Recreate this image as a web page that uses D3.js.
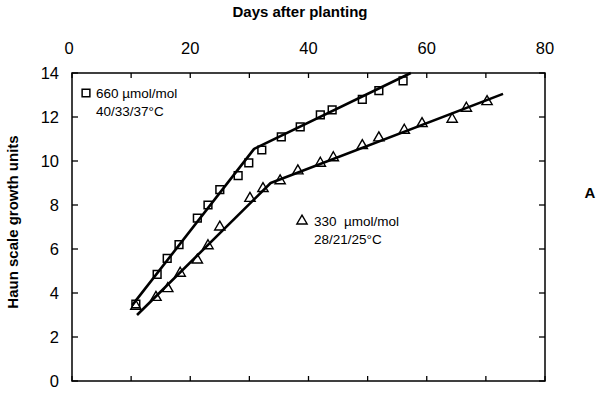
<!DOCTYPE html>
<html>
<head>
<meta charset="utf-8">
<script src="https://cdn.jsdelivr.net/npm/d3@7"></script>
<style>
  body { margin: 0; background: #fff; }
  svg { display: block; }
  .tick-label { font-family: 'Liberation Sans', Arial, sans-serif; font-size: 16.5px; fill: #000; }
  .title { font-family: 'Liberation Sans', Arial, sans-serif; font-size: 15px; font-weight: bold; fill: #000; }
  .legend { font-family: 'Liberation Sans', Arial, sans-serif; font-size: 13.5px; fill: #000; white-space: pre; }
</style>
</head>
<body>
<svg id="chart" width="599" height="393"></svg>
<script>
  'use strict'
  // 660 umol/mol, 40/33/37 C
  var highDays = [10.8, 14.4, 16.1, 18.1, 21.2, 23.0, 25.0, 28.1, 29.9, 32.1, 35.4, 38.6, 42.0, 44.0, 49.1, 51.9, 56.0]
  var highValues = [3.5, 4.85, 5.57, 6.2, 7.4, 8.0, 8.7, 9.33, 9.92, 10.5, 11.1, 11.55, 12.1, 12.32, 12.8, 13.2, 13.64]
  // 330 umol/mol, 28/21/25 C
  var lowDays = [10.8, 14.2, 16.2, 18.3, 21.2, 23.0, 25.0, 30.1, 32.3, 35.2, 38.2, 42.0, 44.2, 49.1, 51.9, 56.2, 59.2, 64.3, 66.7, 70.2]
  var lowValues = [3.4, 3.8, 4.2, 4.9, 5.5, 6.15, 7.0, 8.3, 8.75, 9.1, 9.55, 9.9, 10.15, 10.7, 11.05, 11.4, 11.7, 11.9, 12.4, 12.7]
  // fitted broken-line regressions
  var highFitDays = [10.2, 30.8, 57.3]
  var highFitValues = [3.45, 10.55, 14.0]
  var lowFitDays = [11.0, 33.6, 72.9]
  var lowFitValues = [3.0, 9.0, 13.05]
  var xTicks = [0, 20, 40, 60, 80]
  var yTicks = [0, 2, 4, 6, 8, 10, 12, 14]

  var svg = d3.select('#chart')
  var margin = { top: 73, right: 54, bottom: 12, left: 72 }
  var width = 599 - margin.left - margin.right
  var height = 393 - margin.top - margin.bottom
  var g = svg.append('g').attr('transform', 'translate(' + margin.left + ',' + margin.top + ')')

  var x = d3.scaleLinear().domain([0, 80]).range([0, width])
  var y = d3.scaleLinear().domain([0, 14]).range([height, 0])

  // frame
  g.append('rect')
    .attr('x', 0).attr('y', 0)
    .attr('width', width).attr('height', height)
    .attr('fill', 'none').attr('stroke', '#000').attr('stroke-width', 1.5)

  // inward ticks, every 10 days and every 2 units
  var xMinor = d3.range(0, 81, 10)
  var yMinor = d3.range(0, 15, 2)
  g.selectAll('.xt-top').data(xMinor).enter().append('line')
    .attr('x1', function (d) { return x(d) }).attr('x2', function (d) { return x(d) })
    .attr('y1', 0).attr('y2', 5).attr('stroke', '#000').attr('stroke-width', 1.3)
  g.selectAll('.xt-bot').data(xMinor).enter().append('line')
    .attr('x1', function (d) { return x(d) }).attr('x2', function (d) { return x(d) })
    .attr('y1', height - 5).attr('y2', height).attr('stroke', '#000').attr('stroke-width', 1.3)
  g.selectAll('.yt-left').data(yMinor).enter().append('line')
    .attr('x1', 0).attr('x2', 6)
    .attr('y1', function (d) { return y(d) }).attr('y2', function (d) { return y(d) })
    .attr('stroke', '#000').attr('stroke-width', 1.3)
  g.selectAll('.yt-right').data(yMinor).enter().append('line')
    .attr('x1', width - 6).attr('x2', width)
    .attr('y1', function (d) { return y(d) }).attr('y2', function (d) { return y(d) })
    .attr('stroke', '#000').attr('stroke-width', 1.3)

  // tick labels
  g.selectAll('.x-label').data(xTicks).enter().append('text')
    .attr('class', 'tick-label')
    .attr('x', function (d) { return x(d) - (d === 0 ? 3 : 0) })
    .attr('y', -19)
    .attr('text-anchor', 'middle')
    .text(function (d) { return d })
  g.selectAll('.y-label').data(yTicks).enter().append('text')
    .attr('class', 'tick-label')
    .attr('x', -13)
    .attr('y', function (d) { return y(d) + 6 })
    .attr('text-anchor', 'end')
    .text(function (d) { return d })

  // titles
  svg.append('text').attr('class', 'title')
    .attr('x', 300).attr('y', 17).attr('text-anchor', 'middle')
    .text('Days after planting')
  svg.append('text').attr('class', 'title')
    .attr('transform', 'translate(18,222) rotate(-90)')
    .attr('text-anchor', 'middle')
    .text('Haun scale growth units')
  svg.append('text').attr('class', 'title')
    .attr('x', 590).attr('y', 198).attr('text-anchor', 'middle')
    .text('A')

  // fitted lines
  var line = d3.line()
    .x(function (d) { return x(d[0]) })
    .y(function (d) { return y(d[1]) })
  var highFit = d3.zip(highFitDays, highFitValues)
  var lowFit = d3.zip(lowFitDays, lowFitValues)
  g.append('path').datum(highFit).attr('d', line)
    .attr('fill', 'none').attr('stroke', '#000').attr('stroke-width', 2.6).attr('stroke-linejoin', 'round')
  g.append('path').datum(lowFit).attr('d', line)
    .attr('fill', 'none').attr('stroke', '#000').attr('stroke-width', 2.6).attr('stroke-linejoin', 'round')

  // markers
  var square = d3.symbol().type(d3.symbolSquare).size(60)
  var triangle = d3.symbol().type(d3.symbolTriangle).size(46)
  g.selectAll('.sq').data(d3.zip(highDays, highValues)).enter().append('path')
    .attr('d', square)
    .attr('transform', function (d) { return 'translate(' + x(d[0]) + ',' + y(d[1]) + ')' })
    .attr('fill', 'none').attr('stroke', '#000').attr('stroke-width', 1.5)
  g.selectAll('.tri').data(d3.zip(lowDays, lowValues)).enter().append('path')
    .attr('d', triangle)
    .attr('transform', function (d) { return 'translate(' + x(d[0]) + ',' + y(d[1]) + ')' })
    .attr('fill', 'none').attr('stroke', '#000').attr('stroke-width', 1.4)

  // legends
  svg.append('path').attr('d', square)
    .attr('transform', 'translate(86,93)')
    .attr('fill', 'none').attr('stroke', '#000').attr('stroke-width', 1.5)
  svg.append('text').attr('class', 'legend').attr('x', 96).attr('y', 98).text('660 \u00b5mol/mol')
  svg.append('text').attr('class', 'legend').attr('x', 96).attr('y', 116).text('40/33/37\u00b0C')
  svg.append('path').attr('d', triangle)
    .attr('transform', 'translate(302,221)')
    .attr('fill', 'none').attr('stroke', '#000').attr('stroke-width', 1.4)
  svg.append('text').attr('class', 'legend').attr('x', 314).attr('y', 226).text('330  \u00b5mol/mol')
  svg.append('text').attr('class', 'legend').attr('x', 314).attr('y', 244).text('28/21/25\u00b0C')
</script>
</body>
</html>
